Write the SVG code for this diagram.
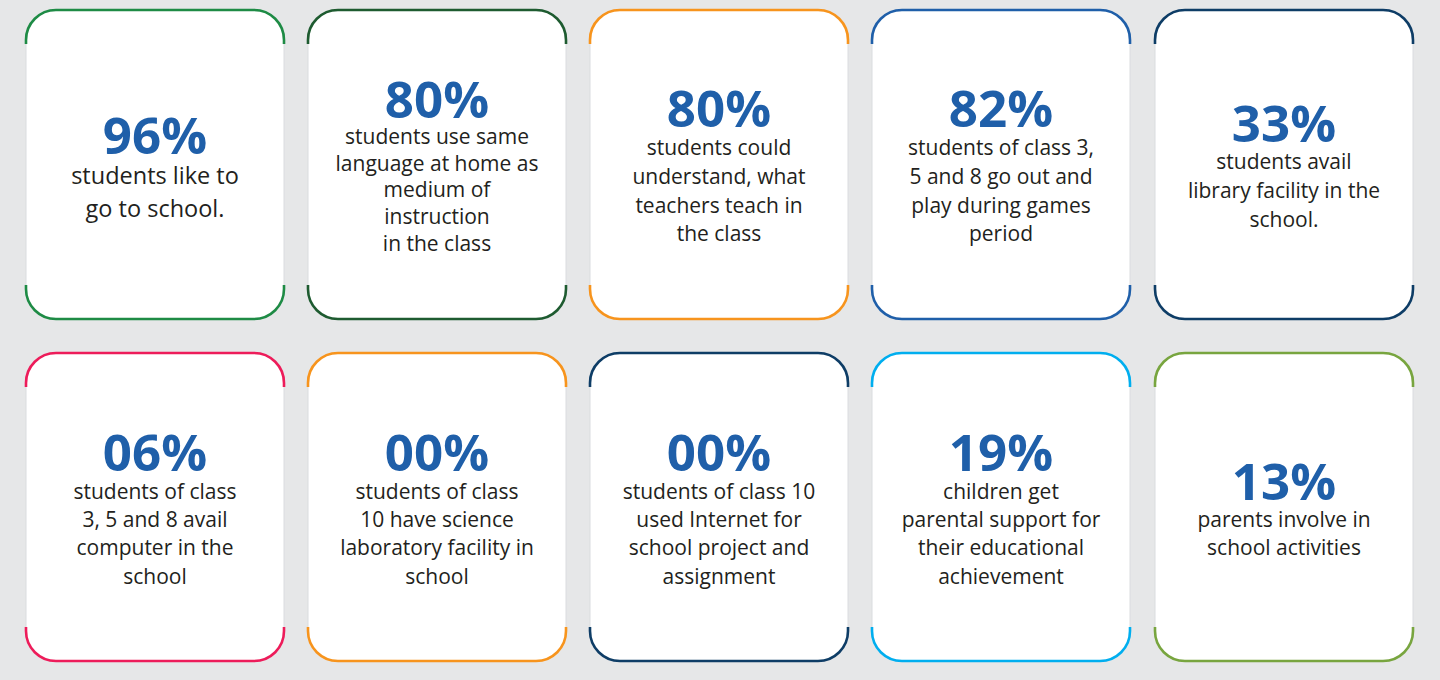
<svg xmlns="http://www.w3.org/2000/svg" width="1440" height="680" viewBox="0 0 1440 680">
<style>
.bg{fill:#e6e7e8}
.card{fill:#ffffff;stroke:#dadcdf;stroke-width:1}
.edge{fill:none;stroke-width:2.6}
.pct{font-family:"Open Sans","Noto Sans",sans-serif;font-weight:700;font-size:51px;fill:#1f5fa9;text-anchor:middle}
.txt{font-family:"Open Sans","Noto Sans",sans-serif;font-size:21px;fill:#231f20;text-anchor:middle}
.big{font-size:23.5px}
</style>
<defs>
<path id="top1" d="M0,34 L0,30 A30,30 0 0 1 30,0 L228,0 A30,30 0 0 1 258,30 L258,34"/>
<path id="bot1" d="M0,-34 L0,-30 A30,30 0 0 0 30,0 L228,0 A30,30 0 0 0 258,-30 L258,-34"/>
</defs>
<rect class="bg" x="0" y="0" width="1440" height="680"/>

<g id="card1">
<rect class="card" x="26" y="10" width="258" height="309" rx="30"/>
<use href="#top1" x="26" y="10" class="edge" stroke="#1e8b45"/>
<use href="#bot1" x="26" y="319" class="edge" stroke="#1e8b45"/>
<text class="pct" x="155" y="154">96%</text>
<text class="txt big" x="155" y="184">students like to</text>
<text class="txt big" x="155" y="217">go to school.</text>
</g>

<g id="card2">
<rect class="card" x="308" y="10" width="258" height="309" rx="30"/>
<use href="#top1" x="308" y="10" class="edge" stroke="#1e5b30"/>
<use href="#bot1" x="308" y="319" class="edge" stroke="#1e5b30"/>
<text class="pct" x="437" y="118">80%</text>
<text class="txt" x="437" y="144">students use same</text>
<text class="txt" x="437" y="171">language at home as</text>
<text class="txt" x="437" y="197">medium of</text>
<text class="txt" x="437" y="224">instruction</text>
<text class="txt" x="437" y="251">in the class</text>
</g>

<g id="card3">
<rect class="card" x="590" y="10" width="258" height="309" rx="30"/>
<use href="#top1" x="590" y="10" class="edge" stroke="#f7941d"/>
<use href="#bot1" x="590" y="319" class="edge" stroke="#f7941d"/>
<text class="pct" x="719" y="127">80%</text>
<text class="txt" x="719" y="155">students could</text>
<text class="txt" x="719" y="184">understand, what</text>
<text class="txt" x="719" y="213">teachers teach in</text>
<text class="txt" x="719" y="241">the class</text>
</g>

<g id="card4">
<rect class="card" x="872" y="10" width="258" height="309" rx="30"/>
<use href="#top1" x="872" y="10" class="edge" stroke="#1f5fa9"/>
<use href="#bot1" x="872" y="319" class="edge" stroke="#1f5fa9"/>
<text class="pct" x="1001" y="127">82%</text>
<text class="txt" x="1001" y="155">students of class 3,</text>
<text class="txt" x="1001" y="184">5 and 8 go out and</text>
<text class="txt" x="1001" y="213">play during games</text>
<text class="txt" x="1001" y="241">period</text>
</g>

<g id="card5">
<rect class="card" x="1155" y="10" width="258" height="309" rx="30"/>
<use href="#top1" x="1155" y="10" class="edge" stroke="#0e3d66"/>
<use href="#bot1" x="1155" y="319" class="edge" stroke="#0e3d66"/>
<text class="pct" x="1284" y="142">33%</text>
<text class="txt" x="1284" y="169">students avail</text>
<text class="txt" x="1284" y="198">library facility in the</text>
<text class="txt" x="1284" y="227">school.</text>
</g>

<g id="card6">
<rect class="card" x="26" y="353" width="258" height="308" rx="30"/>
<use href="#top1" x="26" y="353" class="edge" stroke="#ed1c5a"/>
<use href="#bot1" x="26" y="661" class="edge" stroke="#ed1c5a"/>
<text class="pct" x="155" y="471">06%</text>
<text class="txt" x="155" y="499">students of class</text>
<text class="txt" x="155" y="527">3, 5 and 8 avail</text>
<text class="txt" x="155" y="555">computer in the</text>
<text class="txt" x="155" y="584">school</text>
</g>

<g id="card7">
<rect class="card" x="308" y="353" width="258" height="308" rx="30"/>
<use href="#top1" x="308" y="353" class="edge" stroke="#f7941d"/>
<use href="#bot1" x="308" y="661" class="edge" stroke="#f7941d"/>
<text class="pct" x="437" y="471">00%</text>
<text class="txt" x="437" y="499">students of class</text>
<text class="txt" x="437" y="527">10 have science</text>
<text class="txt" x="437" y="555">laboratory facility in</text>
<text class="txt" x="437" y="584">school</text>
</g>

<g id="card8">
<rect class="card" x="590" y="353" width="258" height="308" rx="30"/>
<use href="#top1" x="590" y="353" class="edge" stroke="#0e3d66"/>
<use href="#bot1" x="590" y="661" class="edge" stroke="#0e3d66"/>
<text class="pct" x="719" y="471">00%</text>
<text class="txt" x="719" y="499">students of class 10</text>
<text class="txt" x="719" y="527">used Internet for</text>
<text class="txt" x="719" y="555">school project and</text>
<text class="txt" x="719" y="584">assignment</text>
</g>

<g id="card9">
<rect class="card" x="872" y="353" width="258" height="308" rx="30"/>
<use href="#top1" x="872" y="353" class="edge" stroke="#00aeef"/>
<use href="#bot1" x="872" y="661" class="edge" stroke="#00aeef"/>
<text class="pct" x="1001" y="471">19%</text>
<text class="txt" x="1001" y="499">children get</text>
<text class="txt" x="1001" y="527">parental support for</text>
<text class="txt" x="1001" y="555">their educational</text>
<text class="txt" x="1001" y="584">achievement</text>
</g>

<g id="card10">
<rect class="card" x="1155" y="353" width="258" height="308" rx="30"/>
<use href="#top1" x="1155" y="353" class="edge" stroke="#78a53f"/>
<use href="#bot1" x="1155" y="661" class="edge" stroke="#78a53f"/>
<text class="pct" x="1284" y="500">13%</text>
<text class="txt" x="1284" y="527">parents involve in</text>
<text class="txt" x="1284" y="555">school activities</text>
</g>
</svg>
